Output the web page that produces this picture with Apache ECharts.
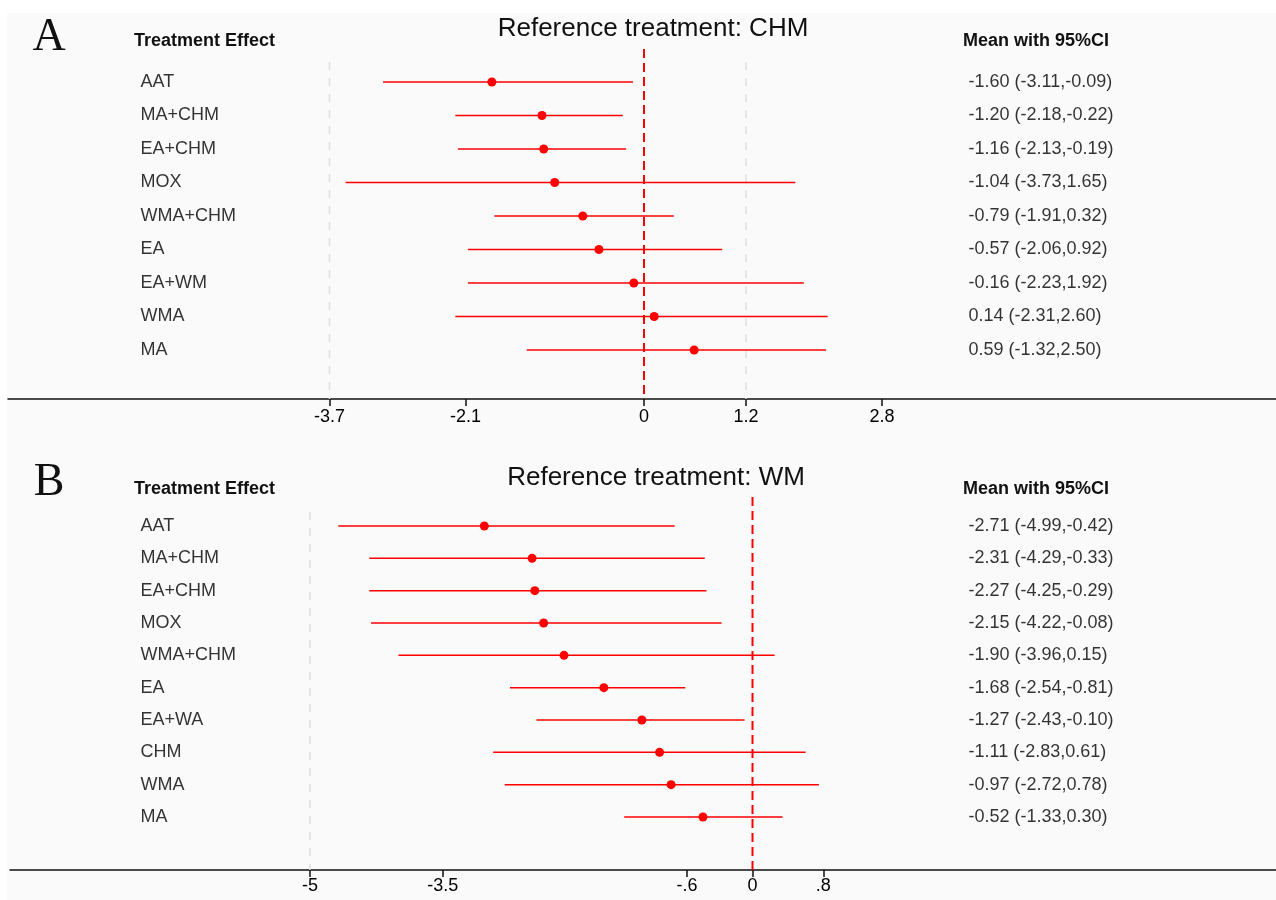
<!DOCTYPE html>
<html>
<head>
<meta charset="utf-8">
<script src="https://cdn.jsdelivr.net/npm/echarts@6/dist/echarts.min.js"></script>
<style>
  html, body { margin: 0; padding: 0; background: #fff; }
  #paper { position: absolute; left: 7px; top: 13px; right: 0; bottom: 0; background: #fafafa; }
  #forest { position: absolute; left: 0; top: 0; width: 1276px; height: 900px; }
</style>
</head>
<body>
<div id="paper"></div>
<div id="forest"></div>
<script>
// A: reference treatment CHM
var treatA = ['AAT', 'MA+CHM', 'EA+CHM', 'MOX', 'WMA+CHM', 'EA', 'EA+WM', 'WMA', 'MA'];
var meanA = [-1.79, -1.20, -1.18, -1.05, -0.72, -0.53, -0.12, 0.12, 0.59];
var lowA = [-3.07, -2.22, -2.19, -3.51, -1.76, -2.07, -2.07, -2.22, -1.38];
var highA = [-0.13, -0.25, -0.21, 1.78, 0.35, 0.92, 1.88, 2.16, 2.14];
var ciTextA = ['-1.60 (-3.11,-0.09)', '-1.20 (-2.18,-0.22)', '-1.16 (-2.13,-0.19)',
  '-1.04 (-3.73,1.65)', '-0.79 (-1.91,0.32)', '-0.57 (-2.06,0.92)',
  '-0.16 (-2.23,1.92)', '0.14 (-2.31,2.60)', '0.59 (-1.32,2.50)'];
var ticksA = [-3.7, -2.1, 0, 1.2, 2.8];
var tickLabelsA = ['-3.7', '-2.1', '0', '1.2', '2.8'];
var refLinesA = [-3.7, 1.2];

// B: reference treatment WM
var treatB = ['AAT', 'MA+CHM', 'EA+CHM', 'MOX', 'WMA+CHM', 'EA', 'EA+WA', 'CHM', 'WMA', 'MA'];
var meanB = [-3.03, -2.49, -2.46, -2.36, -2.13, -1.68, -1.25, -1.05, -0.92, -0.56];
var lowB = [-4.68, -4.33, -4.33, -4.31, -4.00, -2.74, -2.44, -2.93, -2.80, -1.45];
var highB = [-0.88, -0.54, -0.52, -0.35, 0.25, -0.76, -0.09, 0.60, 0.75, 0.34];
var ciTextB = ['-2.71 (-4.99,-0.42)', '-2.31 (-4.29,-0.33)', '-2.27 (-4.25,-0.29)',
  '-2.15 (-4.22,-0.08)', '-1.90 (-3.96,0.15)', '-1.68 (-2.54,-0.81)',
  '-1.27 (-2.43,-0.10)', '-1.11 (-2.83,0.61)', '-0.97 (-2.72,0.78)', '-0.52 (-1.33,0.30)'];
var ticksB = [-5, -3.5, -0.74, 0, 0.8];
var tickLabelsB = ['-5', '-3.5', '-.6', '0', '.8'];
var refLinesB = [-5];

var W = 1276;
var FONT = '"Liberation Sans", Arial, sans-serif';
var RED = '#ff0000';

// layout of each panel in pixels
var panels = [
  { name: 'A', title: 'Reference treatment: CHM', treat: treatA, mean: meanA, low: lowA, high: highA,
    ci: ciTextA, ticks: ticksA, tickLabels: tickLabelsA, refs: refLinesA,
    zero: 644, unit: 85, left: 8, top: 49, axisY: 399, rowY0: 82, rowStep: 33.5, refTop: 62,
    headY: 41, titleX: 653, titleY: 29, letterY: 38, labelMargin: 9 },
  { name: 'B', title: 'Reference treatment: WM', treat: treatB, mean: meanB, low: lowB, high: highB,
    ci: ciTextB, ticks: ticksB, tickLabels: tickLabelsB, refs: refLinesB,
    zero: 752.5, unit: 88.5, left: 10, top: 497, axisY: 870, rowY0: 526, rowStep: 32.33, refTop: 512,
    headY: 489, titleX: 656, titleY: 478, letterY: 483, labelMargin: 7 }
];

var grid = [], xAxis = [], yAxis = [], series = [], graphic = [];

panels.forEach(function (p, k) {
  var xMin = (p.left - p.zero) / p.unit;
  var xMax = (W - p.zero) / p.unit;
  var yMin = (p.top - p.rowY0) / p.rowStep;
  var yMax = (p.axisY - p.rowY0) / p.rowStep;
  var refStart = (p.refTop - p.rowY0) / p.rowStep;
  var nameX = (140 - p.zero) / p.unit;
  var ciX = (968 - p.zero) / p.unit;

  grid.push({ left: p.left, right: 0, top: p.top, height: p.axisY - p.top });
  xAxis.push({
    gridIndex: k,
    type: 'value',
    min: xMin,
    max: xMax,
    position: 'bottom',
    splitLine: { show: false },
    axisLine: { show: true, onZero: false, lineStyle: { color: '#111', width: 1.5 } },
    axisTick: { show: true, customValues: p.ticks, length: 7, lineStyle: { color: '#111', width: 1.5 } },
    axisLabel: {
      customValues: p.ticks,
      margin: p.labelMargin,
      fontSize: 18,
      fontFamily: FONT,
      color: '#000',
      formatter: function (v) {
        var best = 0;
        for (var i = 0; i < p.ticks.length; i++) {
          if (Math.abs(p.ticks[i] - v) < Math.abs(p.ticks[best] - v)) best = i;
        }
        return p.tickLabels[best];
      }
    }
  });
  yAxis.push({ gridIndex: k, type: 'value', inverse: true, min: yMin, max: yMax, show: false });

  // light grey dashed guides
  p.refs.forEach(function (r) {
    series.push({
      type: 'line', xAxisIndex: k, yAxisIndex: k, symbol: 'none', silent: true, z: 1,
      lineStyle: { color: '#dedede', width: 1.5, type: [8, 8] },
      data: [[r, refStart], [r, yMax]]
    });
  });
  // red dashed line of no effect
  series.push({
    type: 'line', xAxisIndex: k, yAxisIndex: k, symbol: 'none', silent: true, z: 3,
    lineStyle: { color: RED, width: 2, type: [9, 5] },
    data: [[0, yMin], [0, yMax]]
  });
  // confidence intervals
  series.push({
    type: 'custom', xAxisIndex: k, yAxisIndex: k, silent: true, z: 4,
    encode: { x: [1, 2], y: 0 },
    data: p.treat.map(function (t, i) { return [i, p.low[i], p.high[i]]; }),
    renderItem: function (params, api) {
      var a = api.coord([api.value(1), api.value(0)]);
      var b = api.coord([api.value(2), api.value(0)]);
      return {
        type: 'line',
        shape: { x1: a[0], y1: a[1], x2: b[0], y2: b[1] },
        style: { stroke: RED, lineWidth: 1.5 }
      };
    }
  });
  // point estimates
  series.push({
    type: 'scatter', xAxisIndex: k, yAxisIndex: k, silent: true, z: 5,
    symbolSize: 9,
    itemStyle: { color: RED, opacity: 1 },
    data: p.mean.map(function (m, i) { return [m, i]; })
  });
  // treatment names
  series.push({
    type: 'scatter', xAxisIndex: k, yAxisIndex: k, silent: true, symbolSize: 1,
    itemStyle: { color: 'rgba(0,0,0,0)' },
    label: { show: true, position: 'right', distance: 0, formatter: '{b}', fontSize: 18, fontFamily: FONT, color: '#000' },
    data: p.treat.map(function (t, i) { return { name: t, value: [nameX, i] }; })
  });
  // mean with 95% CI text
  series.push({
    type: 'scatter', xAxisIndex: k, yAxisIndex: k, silent: true, symbolSize: 1,
    itemStyle: { color: 'rgba(0,0,0,0)' },
    label: { show: true, position: 'right', distance: 0, formatter: '{b}', fontSize: 18, fontFamily: FONT, color: '#000' },
    data: p.ci.map(function (t, i) { return { name: t, value: [ciX, i] }; })
  });

  graphic.push(
    { type: 'text', x: 49, y: p.letterY, style: { text: p.name, font: '46px "Liberation Serif", serif', fill: '#111', textAlign: 'center', textVerticalAlign: 'middle' } },
    { type: 'text', x: 134, y: p.headY, style: { text: 'Treatment Effect', font: 'bold 18px ' + FONT, fill: '#111', textAlign: 'left', textVerticalAlign: 'middle' } },
    { type: 'text', x: 963, y: p.headY, style: { text: 'Mean with 95%CI', font: 'bold 18px ' + FONT, fill: '#111', textAlign: 'left', textVerticalAlign: 'middle' } },
    { type: 'text', x: p.titleX, y: p.titleY, style: { text: p.title, font: '26px ' + FONT, fill: '#111', textAlign: 'center', textVerticalAlign: 'middle' } }
  );
});

var myChart = echarts.init(document.getElementById('forest'));
myChart.setOption({
  animation: false,
  grid: grid,
  xAxis: xAxis,
  yAxis: yAxis,
  graphic: graphic,
  series: series
});
</script>
</body>
</html>
